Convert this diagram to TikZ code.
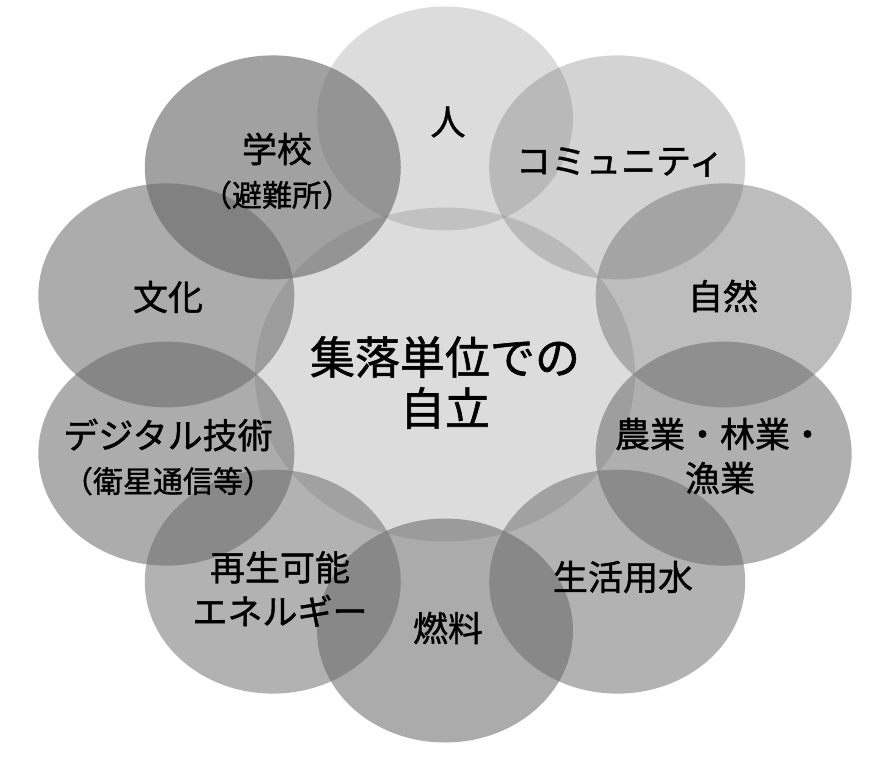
\documentclass[tikz,border=0pt]{standalone}
\usepackage{fontspec}
\setmainfont{Noto Sans CJK JP}
\newfontfamily\gothic{Noto Sans CJK JP}[FakeBold=1.2]

\tikzset{
  petal/.style={fill=black!60, fill opacity=#1},
  petaltext/.style={font=\gothic\fontsize{35}{44}\selectfont, align=center, text=black},
  hubtext/.style={font=\gothic\fontsize{45}{51}\selectfont, align=center, text=black}
}
\newcommand{\paren}[1]{{\fontsize{30}{32}\selectfont #1}}

\begin{document}
\begin{tikzpicture}[x=1pt, y=1pt]
\useasboundingbox (-445,-393.5) rectangle (435,374.5);
% centre and the ten petals
\fill[petal=0.23] (0,0) ellipse [x radius=190, y radius=167];
\foreach \a/\op in {90/0.23, 54/0.29, 18/0.43, -18/0.52, -54/0.50, -90/0.55, -126/0.50, -162/0.54, 162/0.54, 126/0.61}
\fill[petal=\op] (\a:293pt and 256pt) ellipse [x radius=128, y radius=112];

% texts
\node[hubtext] (hub) at (0,-8) {集落単位での\\自立};
\node[petaltext] (hito) at (3,252.5) {人};
\node[petaltext] (komyu) at (175,212.5) {コミュニティ};
\node[petaltext] (shizen) at (278,78.5) {自然};
\node[petaltext] (nogyo) at (275,-81.5) {農業・林業・\\漁業};
\node[petaltext] (suido) at (178,-202.5) {生活用水};
\node[petaltext] (nenryo) at (3,-253.5) {燃料};
\node[petaltext] (saisei) at (-165,-214.5) {再生可能\\エネルギー};
\node[petaltext] (digital) at (-277,-82.5) {デジタル技術\\\paren{（衛星通信等）}};
\node[petaltext] (bunka) at (-277,77.5) {文化};
\node[petaltext] (gakko) at (-168,203.5) {学校\\\paren{（避難所）}};
\end{tikzpicture}
\end{document}
